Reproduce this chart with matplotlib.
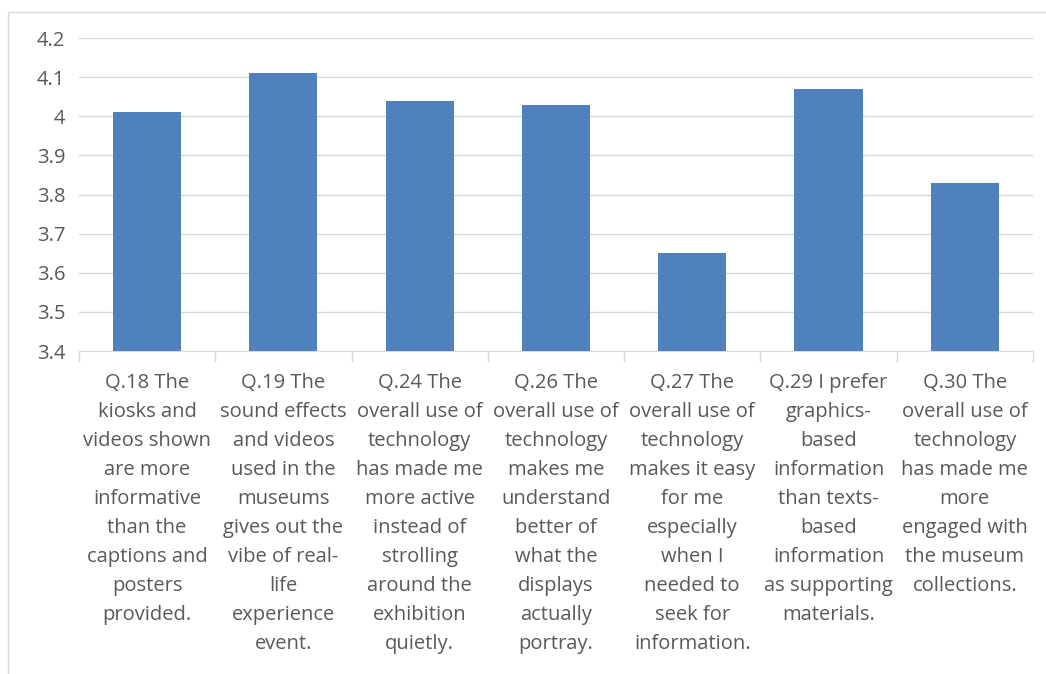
import numpy as np
import matplotlib.pyplot as plt
import matplotlib as mpl
from matplotlib.patches import Rectangle

mpl.rcParams.update({
    'font.family': ['Open Sans', 'DejaVu Sans'],
    'font.size': 14.5,
})

# ── Survey item means ─────────────────────────────────────────────────────────
questions = [
    'Q.18 The\nkiosks and\nvideos shown\nare more\ninformative\nthan the\ncaptions and\nposters\nprovided.',
    'Q.19 The\nsound effects\nand videos\nused in the\nmuseums\ngives out the\nvibe of real-\nlife\nexperience\nevent.',
    'Q.24 The\noverall use of\ntechnology\nhas made me\nmore active\ninstead of\nstrolling\naround the\nexhibition\nquietly.',
    'Q.26 The\noverall use of\ntechnology\nmakes me\nunderstand\nbetter of\nwhat the\ndisplays\nactually\nportray.',
    'Q.27 The\noverall use of\ntechnology\nmakes it easy\nfor me\nespecially\nwhen I\nneeded to\nseek for\ninformation.',
    'Q.29 I prefer\ngraphics-\nbased\ninformation\nthan texts-\nbased\ninformation\nas supporting\nmaterials.',
    'Q.30 The\noverall use of\ntechnology\nhas made me\nmore\nengaged with\nthe museum\ncollections.',
]
means = [4.01, 4.11, 4.04, 4.03, 3.65, 4.07, 3.83]
y_ticks = [3.4, 3.5, 3.6, 3.7, 3.8, 3.9, 4.0, 4.1, 4.2]

BAR = '#4F81BD'
GRID = '#D9D9D9'
TEXT = '#595959'

fig = plt.figure(figsize=(10.46, 6.74), dpi=100)
ax = fig.add_axes([0.0755, 0.4792, 0.912, 0.4644])

# chart area outline
fig.patches.append(Rectangle((8 / 1046, -0.1), 1.2, 1 - 12 / 674 + 0.1,
                             transform=fig.transFigure, fill=False,
                             edgecolor='#D9D9D9', linewidth=1.0))

x = np.arange(len(means))
ax.bar(x, means, width=0.5, color=BAR, zorder=3)

ax.set_xlim(-0.5, len(means) - 0.5)
ax.set_ylim(3.4, 4.2)
ax.set_yticks(y_ticks)
ax.set_yticklabels([f'{v:g}' for v in y_ticks])
ax.grid(axis='y', color=GRID, linewidth=1.0, zorder=0)

ax.set_xticks(x)
ax.set_xticklabels(questions, linespacing=1.6)
ax.set_xticks(np.arange(-0.5, len(means)), minor=True)
ax.tick_params(axis='x', which='major', length=0, pad=15.5, colors=TEXT)
ax.tick_params(axis='x', which='minor', length=8, color=GRID, width=1.0)
ax.tick_params(axis='y', length=0, pad=10, colors=TEXT)

for side in ['top', 'right', 'left']:
    ax.spines[side].set_visible(False)
ax.spines['bottom'].set_color(GRID)

plt.savefig('out.png', dpi=100)
